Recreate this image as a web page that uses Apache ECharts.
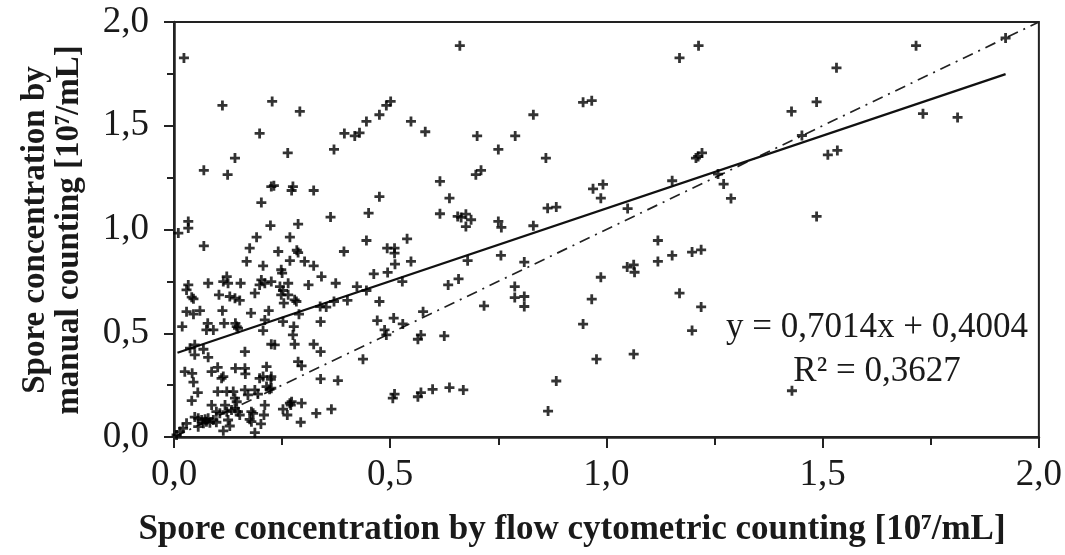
<!DOCTYPE html>
<html>
<head>
<meta charset="utf-8">
<script src="https://cdn.jsdelivr.net/npm/echarts@6/dist/echarts.min.js"></script>
<style>
html,body{margin:0;padding:0;background:#fff;}
#chart{width:1065px;height:555px;}
</style>
</head>
<body>
<div id="chart"></div>
<script>
// Flow cytometric counting (x) and manual counting (y), 10^7/mL
const flowX = [
0.023,0.661,0.112,0.227,0.291,0.198,0.141,0.069,0.124,0.263,
0.370,0.394,0.418,0.429,0.445,0.475,0.491,0.501,0.548,0.581,
0.615,0.637,0.615,0.656,0.664,0.675,0.687,0.675,0.225,0.231,
0.272,0.275,0.323,0.202,0.475,0.450,0.362,0.223,0.287,0.033,
0.033,0.010,1.169,1.213,0.946,0.966,0.831,0.701,0.789,0.750,
0.860,0.698,0.710,0.750,0.757,0.831,0.864,0.884,0.969,0.992,
0.987,1.049,1.152,1.207,1.221,1.212,1.258,1.271,1.288,1.716,
1.532,1.486,1.428,1.452,1.923,1.732,1.812,1.512,1.534,1.486,
1.429,0.679,0.756,0.810,0.634,0.658,0.788,0.788,0.810,0.810,
0.717,0.625,0.865,0.884,0.946,0.966,0.987,0.977,1.048,1.063,
1.065,1.063,1.119,1.119,1.152,1.198,1.219,1.169,1.219,1.198,
0.069,0.191,0.268,0.175,0.241,0.287,0.284,0.168,0.268,0.302,
0.323,0.206,0.248,0.250,0.393,0.445,0.493,0.510,0.510,0.539,
0.548,0.511,0.494,0.462,0.528,0.341,0.374,0.423,0.445,0.475,
0.401,0.370,0.338,0.352,0.339,0.470,0.508,0.529,0.487,0.491,
0.571,0.564,0.576,0.437,0.339,0.323,0.379,0.339,0.506,0.510,
0.564,0.571,0.598,0.637,0.669,0.033,0.029,0.079,0.122,0.125,
0.114,0.154,0.202,0.210,0.198,0.225,0.245,0.252,0.264,0.187,
0.041,0.045,0.104,0.129,0.141,0.152,0.248,0.264,0.279,0.283,
0.254,0.029,0.045,0.060,0.112,0.178,0.219,0.210,0.289,0.252,
0.019,0.078,0.075,0.091,0.116,0.142,0.145,0.148,0.206,0.277,
0.275,0.225,0.233,0.279,0.037,0.048,0.068,0.048,0.079,0.164,
0.287,0.295,0.025,0.042,0.045,0.087,0.101,0.110,0.114,0.142,
0.164,0.165,0.214,0.198,0.206,0.225,0.224,0.055,0.041,0.101,
0.122,0.137,0.164,0.187,0.194,0.214,0.221,0.225,0.141,0.145,
0.171,0.087,0.098,0.106,0.118,0.122,0.133,0.141,0.148,0.152,
0.179,0.183,0.210,0.208,0.175,0.179,0.201,0.252,0.268,0.272,
0.270,0.295,0.262,0.293,0.329,0.364,0.048,0.056,0.064,0.072,
0.075,0.079,0.068,0.083,0.056,0.029,0.021,0.014,0.006,0.114,
0.098,0.091,0.125,0.129,0.187,0.311
];
const manualY = [
1.827,1.886,1.598,1.617,1.569,1.463,1.344,1.285,1.264,1.369,
1.386,1.463,1.451,1.466,1.521,1.553,1.598,1.617,1.521,1.471,
1.232,1.151,1.076,1.063,1.058,1.074,1.047,1.014,1.207,1.211,
1.188,1.207,1.188,1.130,1.158,1.079,1.060,1.019,1.026,1.039,
1.007,0.983,1.827,1.886,1.613,1.621,1.553,1.451,1.451,1.386,
1.344,1.264,1.285,1.039,1.010,1.018,1.103,1.108,1.196,1.217,
1.151,1.101,1.235,1.344,1.369,1.352,1.267,1.219,1.150,1.886,
1.779,1.615,1.569,1.453,1.923,1.558,1.540,1.360,1.381,1.063,
0.223,0.850,0.875,0.843,0.733,0.762,0.725,0.672,0.677,0.629,
0.632,0.487,0.125,0.270,0.544,0.664,0.770,0.375,0.819,0.830,
0.794,0.399,0.947,0.846,0.875,0.891,0.902,0.693,0.627,0.513,
0.921,0.963,0.963,0.910,0.894,0.889,0.900,0.846,0.850,0.846,
0.825,0.825,0.806,0.790,0.894,0.947,0.910,0.910,0.886,0.955,
0.846,0.833,0.793,0.786,0.749,0.773,0.741,0.725,0.706,0.653,
0.658,0.653,0.629,0.626,0.556,0.561,0.573,0.545,0.516,0.492,
0.492,0.471,0.604,0.375,0.411,0.447,0.272,0.280,0.187,0.207,
0.194,0.214,0.230,0.238,0.227,0.733,0.709,0.741,0.773,0.741,
0.749,0.741,0.757,0.741,0.733,0.749,0.725,0.706,0.741,0.693,
0.674,0.666,0.685,0.677,0.669,0.658,0.685,0.685,0.661,0.653,
0.645,0.604,0.592,0.609,0.609,0.597,0.609,0.564,0.592,0.556,
0.532,0.548,0.516,0.516,0.548,0.548,0.532,0.524,0.513,0.532,
0.492,0.447,0.444,0.447,0.428,0.444,0.423,0.396,0.384,0.411,
0.363,0.343,0.315,0.307,0.264,0.315,0.336,0.283,0.291,0.331,
0.331,0.304,0.339,0.283,0.291,0.291,0.278,0.214,0.175,0.219,
0.219,0.219,0.227,0.227,0.207,0.243,0.230,0.235,0.187,0.170,
0.203,0.154,0.122,0.114,0.154,0.122,0.130,0.138,0.122,0.106,
0.122,0.114,0.154,0.106,0.085,0.074,0.063,0.134,0.163,0.170,
0.154,0.163,0.106,0.071,0.114,0.134,0.096,0.090,0.082,0.085,
0.074,0.090,0.066,0.069,0.050,0.066,0.042,0.026,0.010,0.030,
0.071,0.082,0.082,0.053,0.021,0.733
];
// Linear regression line endpoints and 1:1 reference line
const trendLine = [[0.008, 0.406], [1.923, 1.749]];
const identityLine = [[0, 0], [2, 2]];
const tickLabelsX = ['0,0', '0,5', '1,0', '1,5', '2,0'];
const equationText = ['y = 0,7014x + 0,4004', 'R² = 0,3627'];
const xTitle = 'Spore concentration by flow cytometric counting [10⁷/mL]';
const yTitle = ['Spore concentration by', 'manual counting [10⁷/mL]'];

const points = flowX.map((x, i) => [x, manualY[i]]);
const fmt = v => v.toFixed(1).replace('.', ',');
const serif = '"Liberation Serif", "Times New Roman", serif';

const chart = echarts.init(document.getElementById('chart'), null, {renderer: 'canvas'});
chart.setOption({
  animation: false,
  backgroundColor: '#fff',
  grid: {left: 174, right: 24, top: 22, bottom: 118, show: true, borderColor: '#222', borderWidth: 2, backgroundColor: 'transparent'},
  xAxis: {
    type: 'value', min: 0, max: 2, interval: 0.5,
    axisLine: {show: true, onZero: false, lineStyle: {color: '#222', width: 2.5}},
    axisTick: {show: true, inside: false, length: 11, lineStyle: {color: '#222', width: 2}},
    minorTick: {show: true, splitNumber: 2, length: 8, lineStyle: {color: '#222', width: 2}},
    splitLine: {show: false},
    axisLabel: {margin: 20, color: '#1a1a1a', fontFamily: serif, fontSize: 37, formatter: v => tickLabelsX[Math.round(v / 0.5)]}
  },
  yAxis: {
    type: 'value', min: 0, max: 2, interval: 0.5,
    axisLine: {show: true, onZero: false, lineStyle: {color: '#222', width: 2.5}},
    axisTick: {show: true, inside: false, length: 10, lineStyle: {color: '#222', width: 2}},
    minorTick: {show: true, splitNumber: 2, length: 7, lineStyle: {color: '#222', width: 2}},
    splitLine: {show: false},
    axisLabel: {margin: 25, color: '#1a1a1a', fontFamily: serif, fontSize: 37, formatter: v => fmt(v)}
  },
  series: [
    {
      type: 'line', data: identityLine, symbol: 'none', silent: true,
      lineStyle: {color: '#222', width: 1.7, type: [11, 6, 2, 6]}, z: 2
    },
    {
      type: 'line', data: trendLine, symbol: 'none', silent: true,
      lineStyle: {color: '#111', width: 2.3, type: 'solid'}, z: 2
    },
    {
      type: 'scatter', data: points,
      symbol: 'path://M3.6,0 L6.4,0 L6.4,3.6 L10,3.6 L10,6.4 L6.4,6.4 L6.4,10 L3.6,10 L3.6,6.4 L0,6.4 L0,3.6 L3.6,3.6 Z',
      symbolSize: 10, itemStyle: {color: '#000'}, z: 3
    }
  ],
  graphic: [
    {type: 'text', x: 572, y: 530, style: {text: xTitle, font: 'bold 35px ' + serif, fill: '#1a1a1a', align: 'center', verticalAlign: 'middle'}},
    {type: 'text', x: 52, y: 230, rotation: Math.PI / 2,
     style: {text: yTitle.join('\n'), font: 'bold 33px ' + serif, fill: '#1a1a1a', align: 'center', verticalAlign: 'middle', lineHeight: 34}},
    {type: 'text', x: 877, y: 328, style: {text: equationText[0], font: '35px ' + serif, fill: '#1a1a1a', align: 'center', verticalAlign: 'middle'}},
    {type: 'text', x: 877, y: 372, style: {text: equationText[1], font: '35px ' + serif, fill: '#1a1a1a', align: 'center', verticalAlign: 'middle'}}
  ]
});
</script>
</body>
</html>
